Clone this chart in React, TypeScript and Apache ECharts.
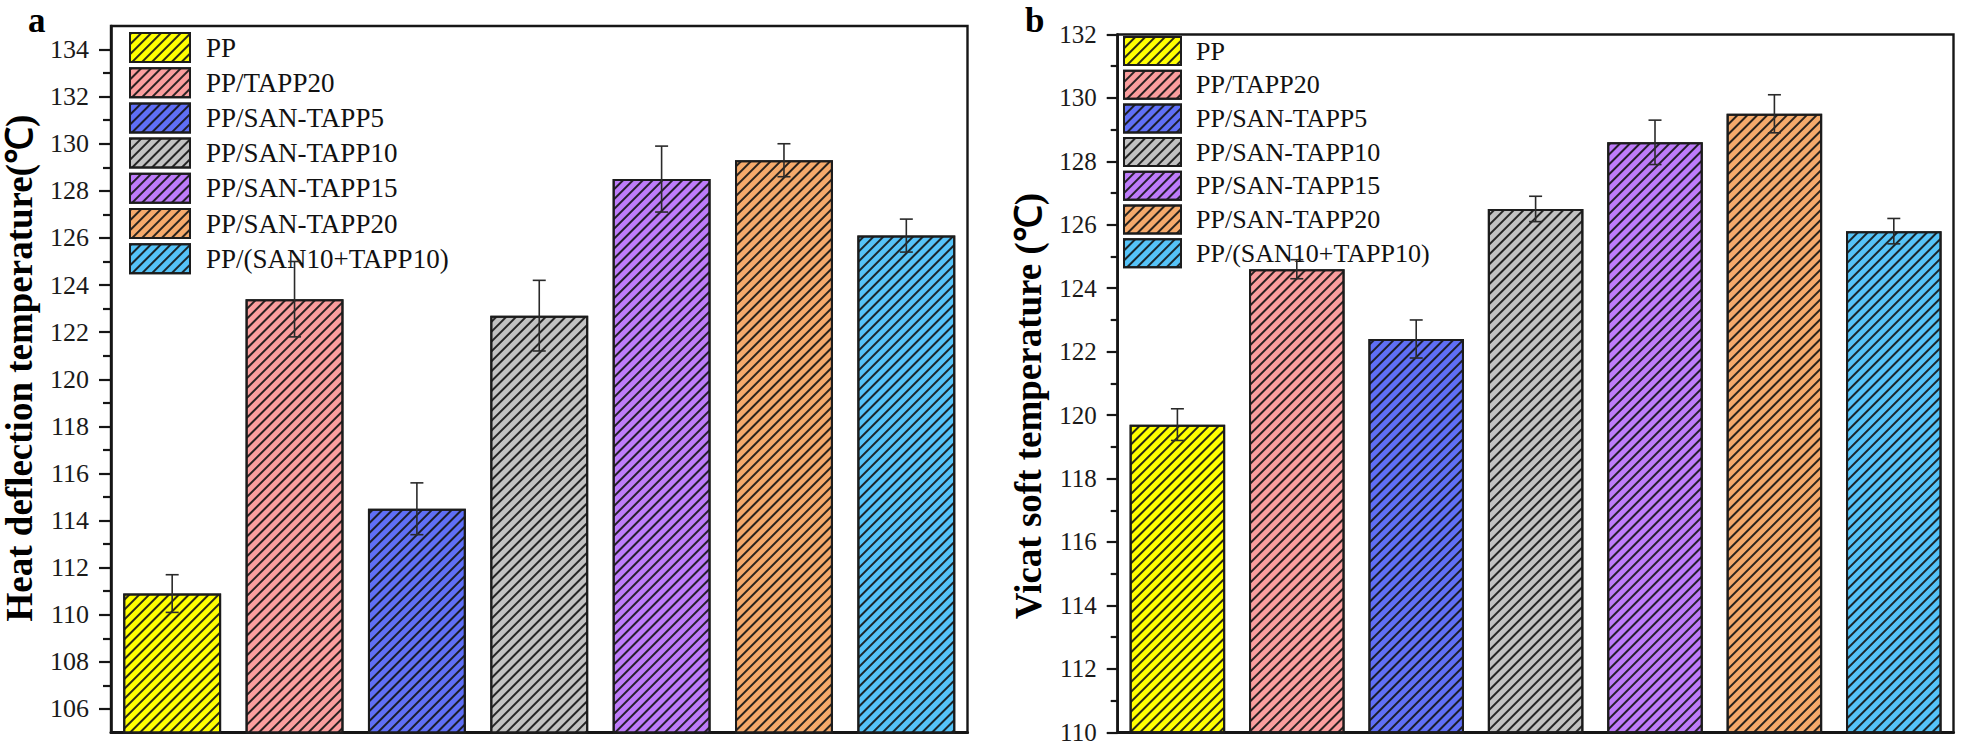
import React, { useEffect, useRef } from 'react';
import * as echarts from 'echarts';

const categories = [
  'PP',
  'PP/TAPP20',
  'PP/SAN-TAPP5',
  'PP/SAN-TAPP10',
  'PP/SAN-TAPP15',
  'PP/SAN-TAPP20',
  'PP/(SAN10+TAPP10)',
];
const colors = ['#FFFF00', '#FA9E9E', '#5F6FF6', '#C2C2C2', '#BE7CFA', '#F5AA6B', '#55C3F8'];

const hdtValues = [110.9, 123.4, 114.5, 122.7, 128.5, 129.3, 126.1];
const hdtErrors = [0.8, 1.6, 1.1, 1.5, 1.4, 0.7, 0.7];
const vstValues = [119.7, 124.6, 122.4, 126.5, 128.6, 129.5, 125.8];
const vstErrors = [0.5, 0.3, 0.6, 0.4, 0.7, 0.6, 0.4];

const hdtMajorTicks = [106, 108, 110, 112, 114, 116, 118, 120, 122, 124, 126, 128, 130, 132, 134];
const hdtMinorTicks = [107, 109, 111, 113, 115, 117, 119, 121, 123, 125, 127, 129, 131, 133];

const hdtTitle = 'Heat deflection temperature(℃)';
const vstTitle = 'Vicat soft temperature (℃)';

const FONT = 'Liberation Serif';
const INK = '#161616';

function buildSeries(values: number[], errors: number[], gi: number, yi: number) {
  const bars = categories.map((name, i) => ({
    name,
    type: 'bar',
    xAxisIndex: gi,
    yAxisIndex: yi,
    stack: 'g' + gi,
    barCategoryGap: '20%',
    data: categories.map((_, j) => (j === i ? values[i] : null)),
    itemStyle: {
      color: colors[i],
      borderColor: '#1c1c1c',
      borderWidth: 2,
      decal: {
        symbol: 'rect',
        symbolSize: 1,
        dashArrayX: [1, 0],
        dashArrayY: [1.2, 4.3],
        rotation: -Math.PI / 4,
        color: 'rgba(20,20,20,0.9)',
      },
    },
    emphasis: { disabled: true },
  }));
  const err = {
    type: 'custom',
    xAxisIndex: gi,
    yAxisIndex: yi,
    z: 10,
    encode: { x: 0, y: [1, 2] },
    data: values.map((v, i) => [i, v - errors[i], v + errors[i]]),
    renderItem: (params: any, api: any) => {
      const x = api.value(0);
      const lo = api.coord([x, api.value(1)]);
      const hi = api.coord([x, api.value(2)]);
      const hw = 6.5;
      const st = { stroke: '#2a2a2a', lineWidth: 1.6 };
      return {
        type: 'group',
        children: [
          { type: 'line', shape: { x1: lo[0], y1: lo[1], x2: hi[0], y2: hi[1] }, style: st },
          { type: 'line', shape: { x1: hi[0] - hw, y1: hi[1], x2: hi[0] + hw, y2: hi[1] }, style: st },
          { type: 'line', shape: { x1: lo[0] - hw, y1: lo[1], x2: lo[0] + hw, y2: lo[1] }, style: st },
        ],
      };
    },
  };
  return [...bars, err];
}

export default function App() {
  const ref = useRef<HTMLDivElement>(null);
  useEffect(() => {
    if (!ref.current) return;
    const chart = echarts.init(ref.current, undefined, { renderer: 'svg' });
    const axisLineStyle = { color: INK, width: 2.6 };
    const option: any = {
      animation: false,
      backgroundColor: '#ffffff',
      textStyle: { fontFamily: FONT },
      grid: [
        { left: 111, top: 26, width: 856.5, height: 706.5, show: true, borderColor: INK, borderWidth: 2.4, backgroundColor: 'transparent' },
        { left: 1117.7, top: 34.5, width: 835.8, height: 697.8, show: true, borderColor: INK, borderWidth: 2.4, backgroundColor: 'transparent' },
      ],
      xAxis: [0, 1].map((gi) => ({
        type: 'category',
        gridIndex: gi,
        data: categories,
        boundaryGap: true,
        axisLabel: { show: false },
        axisTick: { show: false },
        axisLine: { lineStyle: { color: INK, width: 3 } },
      })),
      yAxis: [
        {
          type: 'value',
          gridIndex: 0,
          min: 105,
          max: 135,
          axisLine: { show: true, lineStyle: axisLineStyle },
          axisTick: { show: true, customValues: hdtMajorTicks, length: 12, lineStyle: { color: INK, width: 2.2 } },
          axisLabel: { customValues: hdtMajorTicks, fontSize: 26, fontFamily: FONT, color: '#1a1a1a', margin: 22 },
          splitLine: { show: false },
        },
        {
          type: 'value',
          gridIndex: 0,
          min: 105,
          max: 135,
          position: 'left',
          axisLine: { show: false },
          axisTick: { show: true, customValues: hdtMinorTicks, length: 8, lineStyle: { color: INK, width: 2.2 } },
          axisLabel: { show: false },
          splitLine: { show: false },
        },
        {
          type: 'value',
          gridIndex: 1,
          min: 110,
          max: 132,
          interval: 2,
          axisLine: { show: true, lineStyle: axisLineStyle },
          axisTick: { show: true, length: 11, lineStyle: { color: INK, width: 2.2 } },
          minorTick: { show: true, splitNumber: 2, length: 7, lineStyle: { color: INK, width: 2.2 } },
          axisLabel: { fontSize: 25, fontFamily: FONT, color: '#1a1a1a', margin: 21 },
          splitLine: { show: false },
        },
      ],
      legend: [
        {
          data: categories,
          orient: 'vertical',
          left: 129,
          top: 32,
          icon: 'rect',
          itemWidth: 60,
          itemHeight: 29,
          itemGap: 4.2,
          padding: 0,
          selectedMode: false,
          textStyle: { fontSize: 27, fontFamily: FONT, color: '#111', padding: [0, 0, 0, 11] },
        },
        {
          data: categories,
          orient: 'vertical',
          left: 1123,
          top: 36,
          icon: 'rect',
          itemWidth: 57,
          itemHeight: 28,
          itemGap: 3.7,
          padding: 0,
          selectedMode: false,
          textStyle: { fontSize: 26, fontFamily: FONT, color: '#111', padding: [0, 0, 0, 10] },
        },
      ],
      graphic: [
        { type: 'text', x: 28, y: 20, style: { text: 'a', font: `bold 35px ${FONT}`, fill: '#000', textAlign: 'left', textVerticalAlign: 'middle' } },
        { type: 'text', x: 1025, y: 20, style: { text: 'b', font: `bold 35px ${FONT}`, fill: '#000', textAlign: 'left', textVerticalAlign: 'middle' } },
        { type: 'text', x: 19, y: 368, rotation: Math.PI / 2, style: { text: hdtTitle, font: `bold 37px ${FONT}`, fill: '#000', textAlign: 'center', textVerticalAlign: 'middle' } },
        { type: 'text', x: 1028, y: 406, rotation: Math.PI / 2, style: { text: vstTitle, font: `bold 37px ${FONT}`, fill: '#000', textAlign: 'center', textVerticalAlign: 'middle' } },
      ],
      series: [...buildSeries(hdtValues, hdtErrors, 0, 0), ...buildSeries(vstValues, vstErrors, 1, 2)],
    };
    chart.setOption(option);
    return () => chart.dispose();
  }, []);
  return (
    <div
      ref={ref}
      style={{ position: 'fixed', left: 0, top: 0, width: 1961, height: 746, background: '#fff' }}
    />
  );
}
